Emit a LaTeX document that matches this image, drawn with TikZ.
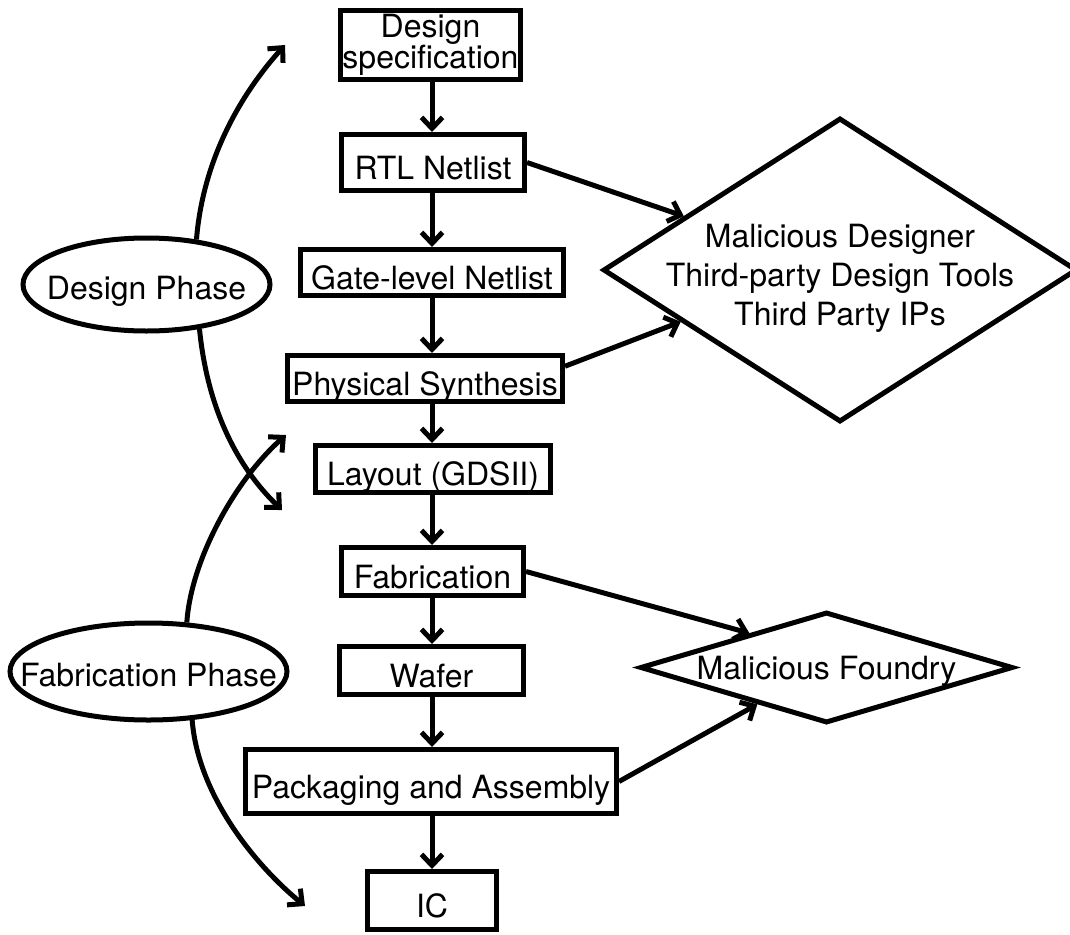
\documentclass[tikz,border=0pt]{standalone}
\usepackage{fontspec}
\setmainfont{TeX Gyre Heros}
\usetikzlibrary{arrows.meta,shapes.geometric}
\begin{document}
\begin{tikzpicture}[x=1pt,y=1pt,
  thick line/.style={line width=5pt},
  basefont/.style={font=\fontsize{32}{37}\selectfont},
  stepbox/.style={draw, thick line, rectangle, inner sep=0pt, basefont,
    text height=33pt, text depth=0pt},
  phase/.style={draw, thick line, ellipse, inner sep=0pt},
  threat/.style={draw, thick line, diamond, inner sep=0pt},
  lbl/.style={basefont, inner sep=0pt},
  arr/.style={thick line, -{Straight Barb[length=11pt,width=21pt]}},
]
\useasboundingbox (0,0) rectangle (1070,-934);
\fill[white] (0,0) rectangle (1070,-934);

% main flow column
\coordinate (col) at (432,0);
\node[draw, thick line, rectangle, inner sep=0pt, align=center,
      font=\fontsize{32}{25}\selectfont,
      minimum width=180, minimum height=69] (spec) at (430.5,-45) {Design\\specification};
\node[stepbox, minimum width=183, minimum height=56] (rtl)    at (433,-162.5) {RTL Netlist};
\node[stepbox, minimum width=263, minimum height=46] (gate)   at (432,-272.5) {Gate-level Netlist};
\node[stepbox, minimum width=275, minimum height=46] (phys)   at (425,-378.5) {Physical Synthesis};
\node[stepbox, minimum width=235, minimum height=47] (layout) at (433,-469)   {Layout (GDSII)};
\node[stepbox, minimum width=182, minimum height=48] (fab)    at (432.5,-571.5) {Fabrication};
\node[stepbox, minimum width=184, minimum height=48] (wafer)  at (431.5,-670.5) {Wafer};
\node[stepbox, minimum width=371, minimum height=64] (pack)   at (431,-781.5) {Packaging and Assembly};
\node[stepbox, minimum width=129, minimum height=58] (ic)     at (432,-900.5) {IC};

% phases
\node[phase, minimum width=247, minimum height=93,
      label={[lbl, text height=29pt, text depth=0pt]center:Design Phase}] (dp) at (146.5,-284.5) {};
\node[phase, minimum width=277, minimum height=97,
      label={[lbl, text height=29pt, text depth=0pt]center:Fabrication Phase}] (fp) at (148.5,-671.5) {};

% threat sources
\node[threat, minimum width=474, minimum height=304,
      label={[lbl, align=center, font=\fontsize{32}{39}\selectfont, yshift=-8]center:Malicious Designer\\Third-party Design Tools\\Third Party IPs}] (md) at (840,-270) {};
\node[threat, minimum width=373, minimum height=111,
      label={[lbl, text height=23pt, text depth=0pt]center:Malicious Foundry}] (mf) at (826.5,-667.5) {};

% flow arrows
\draw[arr] (spec.south -| col) -- (rtl.north -| col);
\draw[arr] (rtl.south -| col) -- (gate.north -| col);
\draw[arr] (gate.south -| col) -- (phys.north -| col);
\draw[arr] (phys.south -| col) -- (layout.north -| col);
\draw[arr] (layout.south -| col) -- (fab.north -| col);
\draw[arr] (fab.south -| col) -- (wafer.north -| col);
\draw[arr] (wafer.south -| col) -- (pack.north -| col);
\draw[arr] (pack.south -| col) -- (ic.north -| col);

% threats
\draw[arr] (rtl.east) -- (md.161.7);
\draw[arr] (phys.5) -- (md.198.3);
\draw[arr] (fab.east) -- (mf.156.8);
\draw[arr] (pack.east) -- (mf.208.1);

% phase spans
\coordinate (tA) at (285,-45);
\coordinate (tB) at (282,-510);
\coordinate (tC) at (286,-435);
\coordinate (tD) at (305,-906);
\draw[arr] (dp.42) .. controls (203,-160) and (240,-95) .. (tA);
\draw[arr] (dp.-40) .. controls (207,-405) and (235,-465) .. (tB);
\draw[arr] (fp.52) .. controls (191,-560) and (235,-480) .. (tC);
\draw[arr] (fp.-48) .. controls (198,-795) and (255,-865) .. (tD);
\end{tikzpicture}
\end{document}
